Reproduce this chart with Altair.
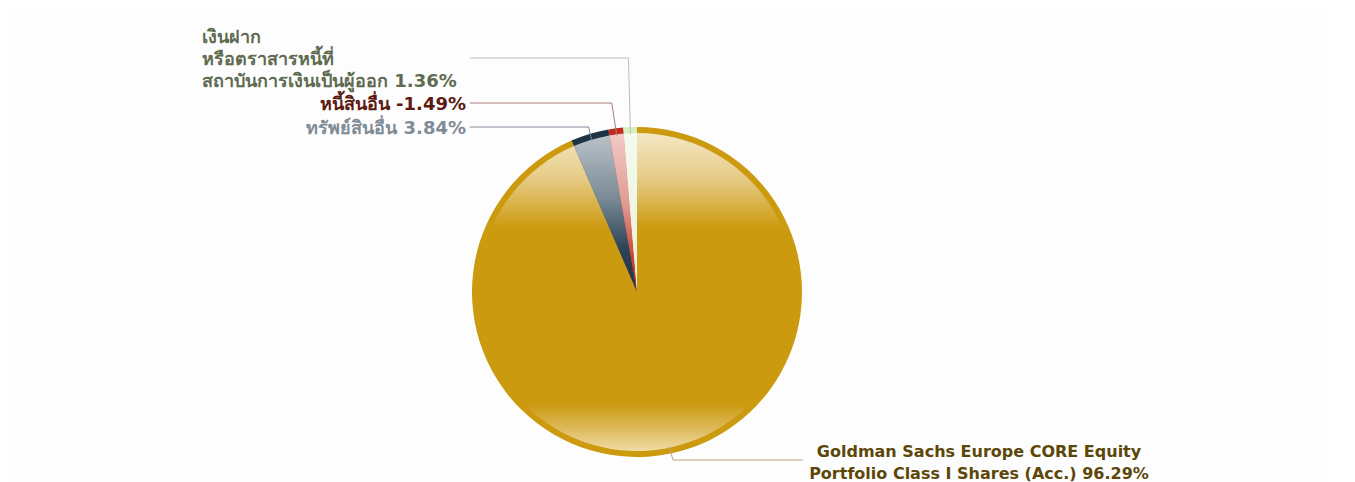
import altair as alt
import pandas as pd

# ---------------- data ----------------
categories = [
    "Goldman Sachs Europe CORE Equity Portfolio Class I Shares (Acc.)",
    "ทรัพย์สินอื่น",
    "หนี้สินอื่น",
    "เงินฝากหรือตราสารหนี้ที่สถาบันการเงินเป็นผู้ออก",
]
values = [96.29, 3.84, -1.49, 1.36]

# label wrapping (text lines of each label, value appended to last line)
label_wrap = [
    ["Goldman Sachs Europe CORE Equity", "Portfolio Class I Shares (Acc.)"],
    ["ทรัพย์สินอื่น"],
    ["หนี้สินอื่น"],
    [" เงินฝาก", "หรือตราสารหนี้ที่", "สถาบันการเงินเป็นผู้ออก"],
]

# ---------------- styles / layout ----------------
ring_colors = ["#CC9A0E", "#1E3446", "#BF2B1A", "#D5EDBF"]
text_colors = ["#5C4709", "#7F8C97", "#5C1A12", "#5E6B50"]
line_colors = ["#B9A87C", "#7E8A94", "#A77C78", "#BDBDBD"]
gradients = [
    [("#F4E7C4", 0), ("#E6CC88", 0.14), ("#CC9A0F", 0.3), ("#CC9A0F", 0.85),
     ("#DDBA5C", 0.93), ("#F0DCA6", 1)],
    [("#BAC2C8", 0), ("#7A8A96", 0.4), ("#2E4456", 0.72), ("#1F3447", 1)],
    [("#F2CAC6", 0), ("#E09A92", 0.45), ("#C8402E", 0.8), ("#BF2B1B", 1)],
    [("#F4FAEE", 0), ("#ECF6E2", 0.6), ("#E2F1D2", 1)],
]
label_pos = [  # (x, baseline y, align, leader y, leader end x, elbow dx, font size)
    (971, 449, "center", 452, 795, 4, 16),
    (458, 126, "right", 119, 462, -3, 18),
    (458, 102, "right", 95, 462, -5, 18),
    (194, 35, "left", 50, 462, -2, 18),
]
CX, CY = 629, 284
R_OUT, R_IN, R_ANCHOR = 165, 159, 158
W, H = 1320, 474
FONT = "DejaVu Sans"
total = sum(abs(v) for v in values)

df = pd.DataFrame({
    "cat": categories,
    "value": values,
    "order": list(range(len(categories))),
    "label": ["\n".join(l[:-1] + [f"{l[-1]} {v:.2f}%"]) for l, v in zip(label_wrap, values)],
    "ey": [p[3] for p in label_pos],
    "lx": [p[4] for p in label_pos],
    "edx": [p[5] for p in label_pos],
})

base = (
    alt.Chart(df)
    .transform_calculate(absval="abs(datum.value)")
    .transform_window(cum="sum(absval)", sort=[alt.SortField("order")], frame=[None, 0])
    .transform_calculate(start="datum.cum - datum.absval")
    .transform_calculate(mid=f"(datum.cum - datum.absval/2) / {total} * 2 * PI")
    .transform_calculate(ax=f"{CX} + {R_ANCHOR} * sin(datum.mid)")
    .transform_calculate(ay=f"{CY} - {R_ANCHOR} * cos(datum.mid)")
    .transform_calculate(ex="datum.ax + datum.edx")
)

theta = alt.Theta("start:Q", scale=alt.Scale(domain=[0, total]))
theta2 = alt.Theta2("cum:Q")

ring = base.mark_arc(radius=R_OUT).encode(
    theta=theta, theta2=theta2,
    fill=alt.Fill("cat:N", scale=alt.Scale(domain=categories, range=ring_colors), legend=None),
    x=alt.value(CX), y=alt.value(CY),
)

layers = [ring]
for i, cat in enumerate(categories):
    grad = alt.Gradient(
        gradient="linear",
        stops=[alt.GradientStop(color=c, offset=o) for c, o in gradients[i]],
        x1=0, x2=0, y1=0, y2=1,
    )
    layers.append(
        base.transform_filter(alt.datum.cat == cat)
        .mark_arc(radius=R_IN, fill=grad)
        .encode(theta=theta, theta2=theta2, x=alt.value(CX), y=alt.value(CY))
    )

line_color = alt.Color("cat:N", scale=alt.Scale(domain=categories, range=line_colors), legend=None)
seg1 = base.mark_rule(strokeWidth=1).encode(
    x=alt.X("ax:Q", scale=None), y=alt.Y("ay:Q", scale=None),
    x2="ex:Q", y2="ey:Q", color=line_color,
)
seg2 = base.mark_rule(strokeWidth=1).encode(
    x=alt.X("ex:Q", scale=None), y=alt.Y("ey:Q", scale=None),
    x2="lx:Q", y2="ey:Q", color=line_color,
)
layers += [seg1, seg2]

for i, cat in enumerate(categories):
    x, y, align, _, _, _, fs = label_pos[i]
    layers.append(
        base.transform_filter(alt.datum.cat == cat)
        .mark_text(font=FONT, fontSize=fs, fontWeight="bold", align=align,
                   baseline="alphabetic", lineBreak="\n", lineHeight=22,
                   color=text_colors[i])
        .encode(text="label:N", x=alt.value(x), y=alt.value(y))
    )

chart = (
    alt.layer(*layers)
    .properties(width=W, height=H, autosize=alt.AutoSizeParams(type="none"),
                padding=0, background="#FDFDFD")
    .configure_view(stroke=None)
)

chart.save("out.html", embed_options={"renderer": "svg", "actions": False})
